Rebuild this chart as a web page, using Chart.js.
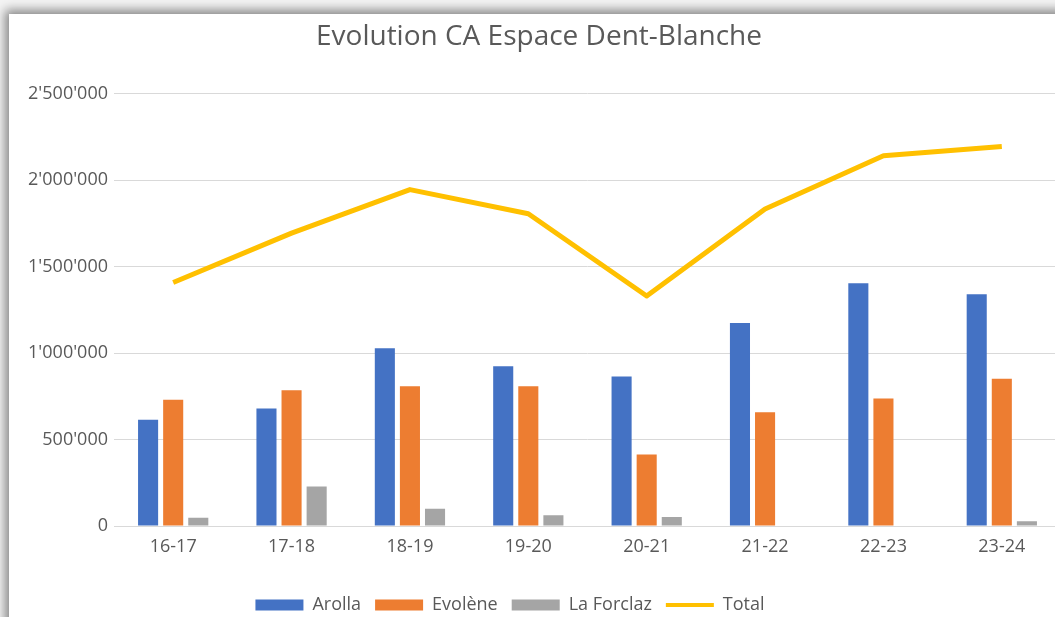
<!DOCTYPE html>
<html>
<head>
<meta charset="utf-8">
<script src="https://cdn.jsdelivr.net/npm/chart.js@4"></script>
<style>
  html, body { margin: 0; padding: 0; width: 1055px; height: 617px; overflow: hidden; background: #f4f4f4; }
  #card { position: absolute; left: 9px; top: 14px; width: 1200px; height: 800px; background: #fff;
          box-shadow: -2px -2px 10px 2px rgba(0,0,0,0.45); }
  #wrap { position: absolute; left: 0; top: 0; width: 1075px; height: 628px; }
</style>
</head>
<body>
<div id="card"></div>
<div id="wrap"><canvas id="c" width="1075" height="628"></canvas></div>
<script>
const categories = ['16-17', '17-18', '18-19', '19-20', '20-21', '21-22', '22-23', '23-24'];
const arolla    = [615000, 680000, 1027000, 924000, 864000, 1174000, 1404000, 1340000];
const evolene   = [730000, 785000, 808000, 808000, 414000, 658000, 737000, 851000];
const laForclaz = [48000, 228000, 100000, 62000, 52000, 0, 0, 27000];
const total     = [1408000, 1693000, 1945000, 1805000, 1330000, 1833000, 2141000, 2194000];
const yTicks    = [0, 500000, 1000000, 1500000, 2000000, 2500000];

const FONT = 'Open Sans';
const TXT = '#595959';

function fmt(v) {
  return String(v).replace(/\B(?=(\d{3})+(?!\d))/g, "'");
}

// shift the centred legend row a little to the left, as in the reference
const legendShift = {
  id: 'legendShift',
  afterUpdate(chart) { if (chart.legend) chart.legend.right -= 58; }
};

new Chart(document.getElementById('c'), {
  type: 'bar',
  data: {
    labels: categories,
    datasets: [
      { label: 'Arolla', data: arolla, backgroundColor: '#4472C4', categoryPercentage: 0.636, barPercentage: 0.8 },
      { label: 'Evolène', data: evolene, backgroundColor: '#ED7D31', categoryPercentage: 0.636, barPercentage: 0.8 },
      { label: 'La Forclaz', data: laForclaz, backgroundColor: '#A5A5A5', categoryPercentage: 0.636, barPercentage: 0.8 },
      { label: 'Total', type: 'line', data: total, borderColor: '#FFC000', backgroundColor: '#FFC000',
        borderWidth: 5, pointRadius: 0, tension: 0, borderJoinStyle: 'round', borderCapStyle: 'butt' }
    ]
  },
  plugins: [legendShift],
  options: {
    responsive: false,
    animation: false,
    layout: { padding: { top: 14, left: 17, right: 14, bottom: 4 } },
    plugins: {
      tooltip: { enabled: false },
      title: {
        display: true,
        text: 'Evolution CA Espace Dent-Blanche',
        color: TXT,
        font: { family: FONT, size: 28, weight: 'normal' },
        padding: { top: 6, bottom: 40 }
      },
      legend: {
        position: 'bottom',
        labels: {
          color: TXT,
          font: { family: FONT, size: 18 },
          usePointStyle: true,
          pointStyleWidth: 48,
          boxHeight: 11,
          padding: 14,
          generateLabels(chart) {
            const items = Chart.defaults.plugins.legend.labels.generateLabels(chart);
            items.forEach((it, i) => {
              if (i === 3) { it.pointStyle = 'line'; it.lineWidth = 4; it.strokeStyle = '#FFC000'; }
              else { it.pointStyle = 'rect'; it.lineWidth = 0; it.strokeStyle = it.fillStyle; }
            });
            return items;
          }
        }
      }
    },
    scales: {
      x: {
        grid: { display: false, drawTicks: false },
        border: { display: true, color: '#d9d9d9', width: 1 },
        ticks: { color: TXT, font: { family: FONT, size: 18 }, padding: 10 },
        afterFit(scale) { scale.height = 56; }
      },
      y: {
        min: 0, max: 2500000,
        afterBuildTicks(scale) { scale.ticks = yTicks.map(v => ({ value: v })); },
        afterFit(scale) { scale.width = 97; },
        grid: { color: '#d9d9d9', lineWidth: 1, drawTicks: false },
        border: { display: false },
        ticks: { color: TXT, font: { family: FONT, size: 18 }, padding: 6, callback: v => fmt(v) }
      }
    }
  }
});
</script>
</body>
</html>
